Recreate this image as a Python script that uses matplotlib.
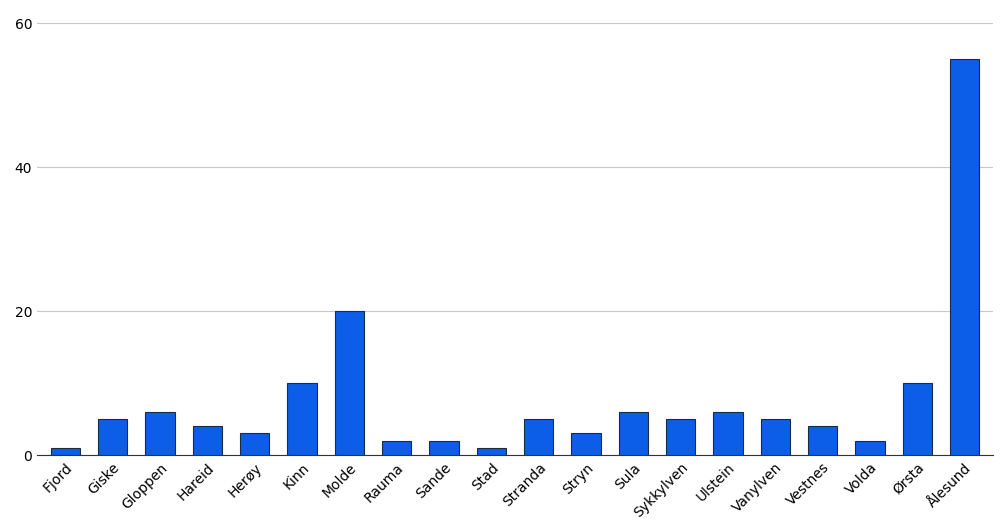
import matplotlib.pyplot as plt

names = ["Fjord", "Giske", "Gloppen", "Hareid", "Herøy", "Kinn", "Molde", "Rauma",
         "Sande", "Stad", "Stranda", "Stryn", "Sula", "Sykkylven", "Ulstein",
         "Vanylven", "Vestnes", "Volda", "Ørsta", "Ålesund"]
counts = [1, 5, 6, 4, 3, 10, 20, 2, 2, 1, 5, 3, 6, 5, 6, 5, 4, 2, 10, 55]

fig = plt.figure(figsize=(10, 5.31), dpi=100)
ax = fig.add_axes([0.037, 0.143, 0.956, 0.813])
ax.bar(range(len(names)), counts, width=0.62, color="#0c5ee8", edgecolor="#1a2a4a", linewidth=0.8, zorder=3)
ax.set_ylim(0, 60)
ax.set_yticks([0, 20, 40, 60])
ax.set_xlim(-0.6, len(names) - 0.4)
ax.set_xticks(range(len(names)))
ax.set_xticklabels(names, rotation=45, ha="right", rotation_mode="anchor", fontsize=10)
ax.grid(axis="y", color="#c8c8c8", linewidth=0.8, zorder=0)
for s in ["top", "right", "left"]:
    ax.spines[s].set_visible(False)
ax.spines["bottom"].set_color("#333333")
ax.tick_params(axis="y", length=0, labelsize=10)
ax.tick_params(axis="x", length=0, pad=4)
fig.savefig("out.png")
